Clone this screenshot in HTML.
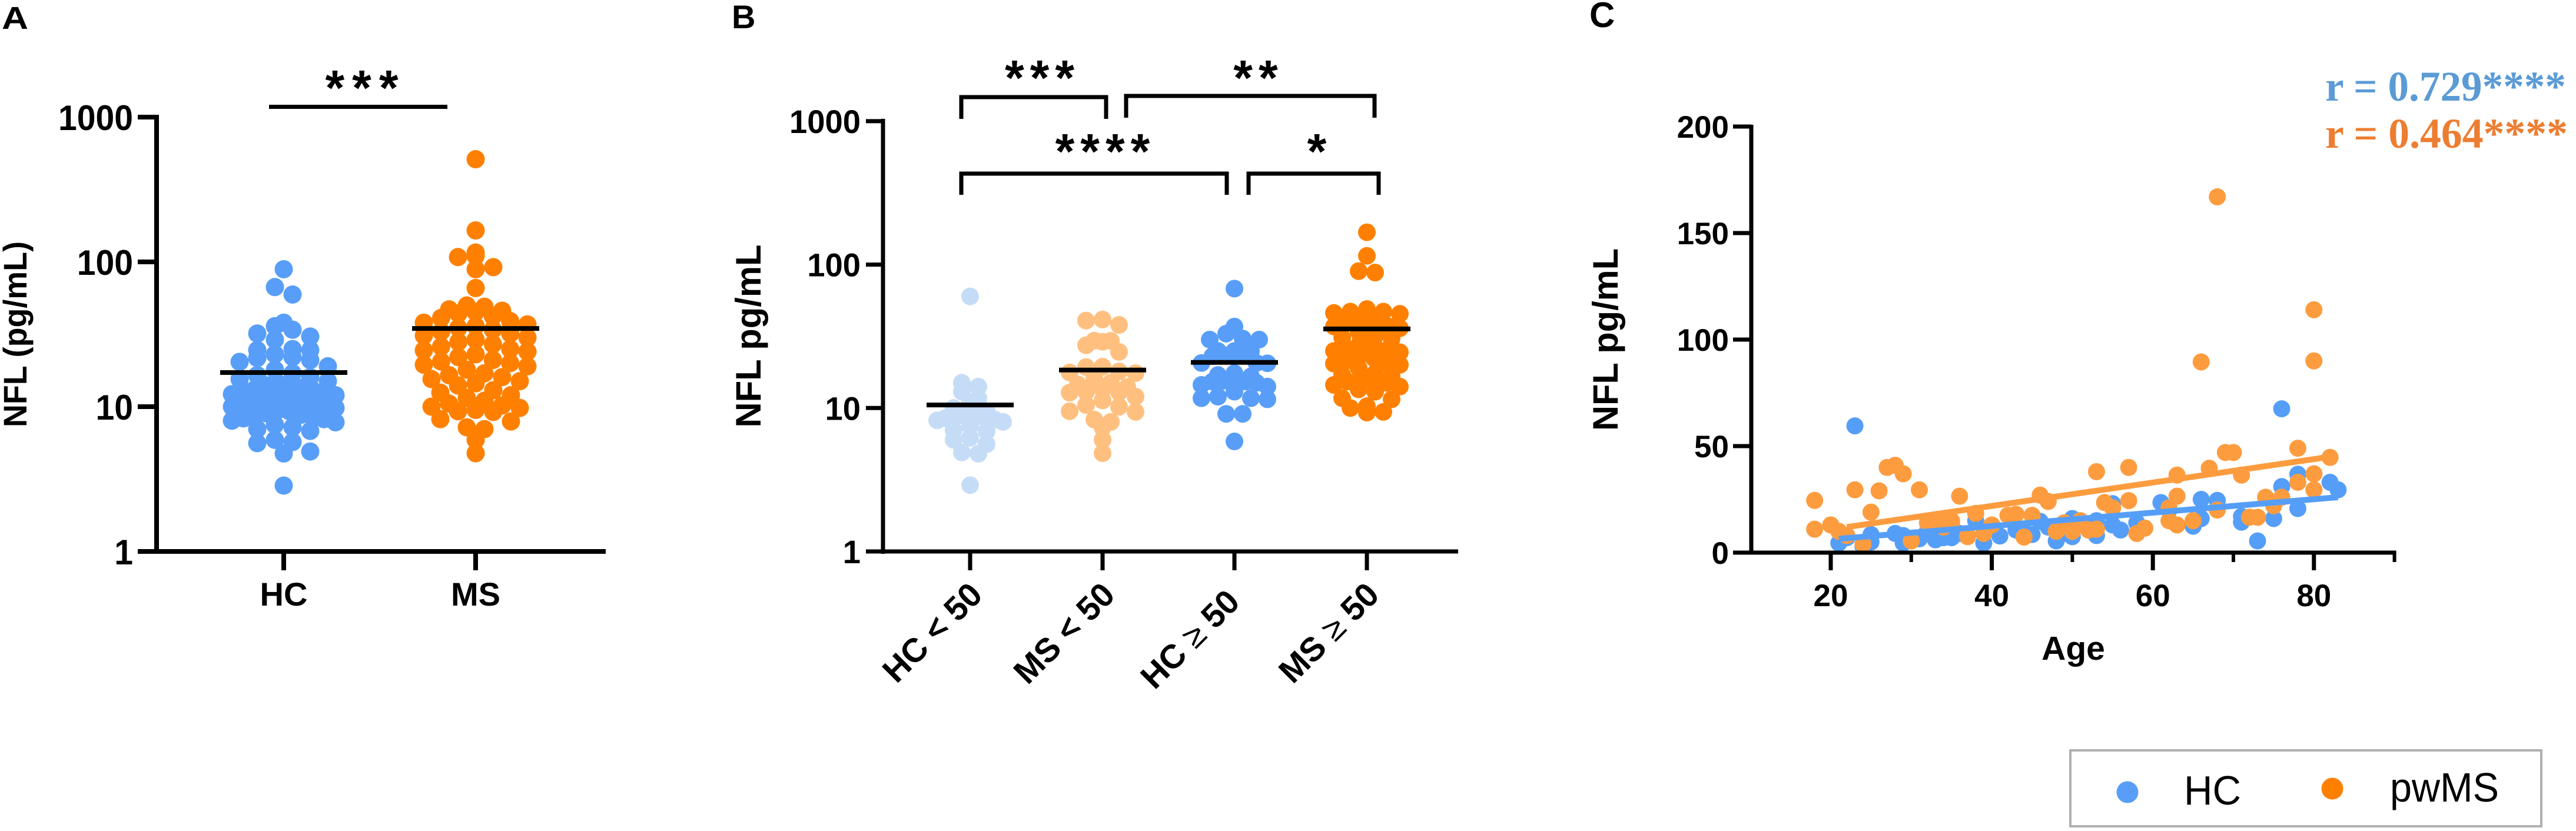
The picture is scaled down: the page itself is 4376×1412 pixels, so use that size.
<!DOCTYPE html>
<html lang="en">
<head>
<meta charset="utf-8">
<title>NFL by group and age</title>
<style>
html,body{margin:0;padding:0;background:#fff;}
svg{display:block;}
text{font-family:"Liberation Sans",Arial,sans-serif;fill:#000;}
.b{font-weight:bold;}
</style>
</head>
<body>
<svg id="fig" xmlns="http://www.w3.org/2000/svg" width="4376" height="1412" viewBox="0 0 4376 1412">
  <rect x="0" y="0" width="4376" height="1412" fill="#fff"/>
  <g id="panelA"></g>
  <g id="panelB"></g>
  <g id="panelC"></g>

  <text class="b" x="3" y="49" font-size="54" textLength="45" lengthAdjust="spacingAndGlyphs">A</text>
  <text class="b" x="1243" y="48" font-size="56">B</text>
  <text class="b" x="2700" y="46" font-size="60">C</text>

  <text class="b" font-size="56" text-anchor="middle" textLength="316" lengthAdjust="spacingAndGlyphs" transform="translate(45,568) rotate(-90)">NFL (pg/mL)</text>
  <text class="b" font-size="60" text-anchor="middle" textLength="311" lengthAdjust="spacingAndGlyphs" transform="translate(1292,571) rotate(-90)">NFL pg/mL</text>
  <text class="b" font-size="60" text-anchor="middle" textLength="310" lengthAdjust="spacingAndGlyphs" transform="translate(2748,577) rotate(-90)">NFL pg/mL</text>
  <text class="b" font-size="57" text-anchor="middle" x="3522" y="1121">Age</text>

  <g>
    <line x1="457" y1="181.5" x2="760" y2="181.5" stroke="#000" stroke-width="7"/>
    <text class="b" font-size="84" text-anchor="middle" letter-spacing="13" x="621" y="178">***</text>
  </g>
  <g fill="none" stroke="#000" stroke-width="7">
    <path d="M1633 202V165H1879V202"/>
    <path d="M1913 200V163H2335V200"/>
    <path d="M1633 331V295H2084V331"/>
    <path d="M2121 331V295H2342V331"/>
  </g>
  <text class="b" font-size="84" text-anchor="middle" letter-spacing="10" x="1771" y="161">***</text>
  <text class="b" font-size="84" text-anchor="middle" letter-spacing="10" x="2138" y="161">**</text>
  <text class="b" font-size="84" text-anchor="middle" letter-spacing="10" x="1878" y="286">****</text>
  <text class="b" font-size="84" text-anchor="middle" x="2237" y="286">*</text>

  <text font-size="72" font-weight="bold" style="font-family:'Liberation Serif',serif;fill:#5B9BD5" x="3950" y="171" textLength="409" lengthAdjust="spacingAndGlyphs">r = 0.729****</text>
  <text font-size="72" font-weight="bold" style="font-family:'Liberation Serif',serif;fill:#ED7D31" x="3950" y="251" textLength="412" lengthAdjust="spacingAndGlyphs">r = 0.464****</text>

  <g>
    <rect x="3517" y="1275" width="800" height="129" fill="#fff" stroke="#b0b0b0" stroke-width="4"/>
    <ellipse cx="3614" cy="1346" rx="18.5" ry="18.5" fill="#589EF8"/>
    <text font-size="70" x="3710" y="1367" textLength="97" lengthAdjust="spacingAndGlyphs">HC</text>
    <ellipse cx="3962" cy="1340" rx="18.5" ry="18.5" fill="#FF8000"/>
    <text font-size="70" x="4060" y="1362" textLength="185" lengthAdjust="spacingAndGlyphs">pwMS</text>
  </g>
</svg>

<script>
// ---------- Panel A data (NFL pg/mL) ----------
const aCategories = ['HC', 'MS'];
const aHC = [89,67,59.5,38,36,34,32,30.5,29,25,24.6,24.6,23,22,21.7,21,20.4,19,18,17,16.5,16,15.5,15,14.5,14.3,14,13.5,13.2,13,12.8,12.5,12.2,12,11.8,11.5,11.2,11,10.8,10.5,10.2,10,9.8,9.5,9.3,9,8.8,8.6,8.5,8.3,8.2,8,7.8,7.5,7.2,7,6.8,5.9,5.7,5.6,4.9,4.75,2.85];
const aMS = [512,165,116,110,108,92,89,66,50,49,47,46,45,44,42,41,39,38,37,36,35,34,33,32,31,30,29,28,27,26,25,24.5,24,23,22,21,20.5,20,19.5,19,18,17,16.5,16,15.5,15,14.5,14,13,12.5,12,11.5,11,10.5,10.2,10,9.8,9.5,9.3,9.2,8.2,7.9,7.2,7,5.9,4.77];
const aMeans = [17.2, 34.7];
const logTicks = [1, 10, 100, 1000];

// ---------- Panel B data (NFL pg/mL) ----------
const bCategories = ['HC < 50', 'MS < 50', 'HC \u2265 50', 'MS \u2265 50'];
const bHCyoung = [60,15,14.1,13,11.7,11,10,9.5,9,8.9,8.8,8.7,8.6,8.5,8.3,8.2,8,7.5,7,6.9,6.2,6,5.6,4.9,4.8,2.9];
const bMSyoung = [41.4,40.7,38,29.5,29.4,29,27.4,24.6,19.4,19.3,18,17.7,17.5,16,15,14.6,14,13.5,13,12.9,12.8,12,11.3,10.5,10.2,9.5,9.4,8.3,8,7.3,6,4.84];
const bHCold = [68,37,33,30.5,30,30,25,25,24.9,24,23.4,23.4,23,20.6,20.6,20.5,17.5,17,16.6,16,15.5,15.3,15.3,15,14.5,14.1,13,12,11.7,11.7,11.5,9.1,9.1,5.85];
const bMSold = [168,115,90,88,49,47,47,46,45.4,42,41.4,40,39,37,37,36,34,32,31,30.5,29,28,26,25.3,25,24.5,23.5,22.4,21.5,20.6,20.4,20,19,17.5,17,16.6,16,15.5,15.3,15,14.5,14.1,13.5,13,11.7,11.5,10.3,10,9.4,9.3];
const bMeans = [10.5, 18.4, 20.8, 35.6];

// ---------- Panel C data (age, NFL pg/mL) ----------
const cHCages = [21,22,23,24,25,25,28,29,29,31,32,33,34,35,36,38,39,40,41,43,44,45,46,47,48,49,50,50,52,53,53,55,55,56,58,61,62,65,66,66,68,71,71,73,75,76,76,78,78,82,83];
const cHCvalues = [4.5,7,59.5,3,8.5,5,9,4.5,8,6.5,10,6,7,7,9,15,4.5,11,7.8,10.6,10,8.5,14.7,12,5.5,9,16,7.5,12,8,15,23,13,10.6,14,23.5,20,12.4,25,16,24.5,14.3,17,5.5,16,31,67.5,20.7,36.8,33,29.5];
const cMSages = [18,18,20,21,22,23,24,25,26,27,28,29,30,31,32,33,33,34,34,35,35,36,37,37,38,39,40,42,43,44,45,46,47,48,49,50,51,52,53,53,54,55,57,57,58,59,62,62,63,63,63,65,66,67,68,68,69,70,71,72,73,74,75,76,78,78,80,80,80,80,82];
const cMSvalues = [24.5,11,13,10,8,29.5,4,19,29,40,41,37,5.5,29.5,14,15,13,12,15,14,15,26.5,8,7.5,18.4,9,13,17.5,18,7.3,17.5,27,24,10,14,10,15,10.6,11,38,23.5,21,40,24.4,9,11.5,15,21,26.5,36.4,13,15,89.5,39.6,167,20,47,47,36.4,16.6,16.6,26,22,26,49,33,37,29.5,90,114,44.7];
const cHCfitAges = [21, 83];
const cHCfitValues = [6.5, 26];
const cMSfitAges = [22, 82];
const cMSfitValues = [12, 45];
const cAgeTicks = [20, 40, 60, 80];
const cAgeMinorTicks = [30, 50, 70, 90];
const cValueTicks = [0, 50, 100, 150, 200];

// ---------- helpers ----------
const NS = 'http://www.w3.org/2000/svg';
function make(tag, parent, attrs) {
  const el = document.createElementNS(NS, tag);
  for (const k in attrs) el.setAttribute(k, attrs[k]);
  parent.appendChild(el);
  return el;
}
// GraphPad-style swarm: values falling in the same vertical bin are spread symmetrically around the category centre.
function swarmOffsets(values, yOf, binPx, spacing, maxHalf) {
  const bins = {};
  values.forEach((v, i) => {
    const key = Math.floor(yOf(v) / binPx);
    (bins[key] = bins[key] || []).push(i);
  });
  const out = new Array(values.length).fill(0);
  Object.keys(bins).forEach(key => {
    const members = bins[key];
    const n = members.length;
    const gap = n > 1 ? Math.min(spacing, 2 * maxHalf / (n - 1)) : 0;
    const slots = [];
    for (let s = 0; s < n; s++) slots.push((s - (n - 1) / 2) * gap);
    slots.sort((p, q) => Math.abs(p) - Math.abs(q));
    members.forEach((idx, m) => { out[idx] = slots[m]; });
  });
  return out;
}
function logAxisFn(y1, yDecade) {
  return v => y1 - Math.log10(v) * yDecade;
}

// ---------- Panel A ----------
const aX = [482, 808];
const aY = logAxisFn(937, 246);
(function () {
  const g = document.getElementById('panelA');
  const groups = [aHC, aMS];
  const colours = ['#589EF8', '#FF8000'];
  groups.forEach((vals, gi) => {
    const offs = swarmOffsets(vals, aY, 24, 30, 88);
    vals.forEach((v, i) => {
      const c = make('circle', g, {cx: aX[gi] + offs[i], cy: aY(v), r: 15.5, fill: colours[gi]});
      
      
    });
  });
  aMeans.forEach((m, i) => {
    const l = make('line', g, {x1: aX[i] - 108, x2: aX[i] + 108, y1: aY(m), y2: aY(m), stroke: '#000', 'stroke-width': 8});
    
    
  });
  const ya = make('line', g, {x1: 266, x2: 266, y1: aY(1000) - 4, y2: 941, stroke: '#000', 'stroke-width': 8});
  
  
  const xa = make('line', g, {x1: 234, x2: 1029, y1: 937, y2: 937, stroke: '#000', 'stroke-width': 8});
  
  
  logTicks.forEach(t => {
    const k = make('line', g, {x1: 234, x2: 266, y1: aY(t), y2: aY(t), stroke: '#000', 'stroke-width': 8});
    
    
    const s = make('text', g, {x: 226, y: aY(t) + 22, 'text-anchor': 'end', 'font-size': 60, class: 'b', textLength: 127 * String(t).length / 4, lengthAdjust: 'spacingAndGlyphs'});
    s.textContent = t;
    
    
  });
  aCategories.forEach((c, i) => {
    const k = make('line', g, {x1: aX[i], x2: aX[i], y1: 937, y2: 969, stroke: '#000', 'stroke-width': 8});
    
    
    const s = make('text', g, {x: aX[i], y: 1029, 'text-anchor': 'middle', 'font-size': 56, class: 'b'});
    s.textContent = c;
    
    
  });
})();

// ---------- Panel B ----------
const bX = [1648, 1873, 2097, 2322];
const bY = logAxisFn(937, 243.7);
(function () {
  const g = document.getElementById('panelB');
  const groups = [bHCyoung, bMSyoung, bHCold, bMSold];
  const colours = ['#C5DCF6', '#FFC07F', '#589EF8', '#FF8000'];
  groups.forEach((vals, gi) => {
    const offs = swarmOffsets(vals, bY, 20, 28, 56);
    vals.forEach((v, i) => {
      const c = make('circle', g, {cx: bX[gi] + offs[i], cy: bY(v), r: 15, fill: colours[gi]});
      
      
    });
  });
  bMeans.forEach((m, i) => {
    const l = make('line', g, {x1: bX[i] - 74, x2: bX[i] + 74, y1: bY(m), y2: bY(m), stroke: '#000', 'stroke-width': 8});
    
    
  });
  const ya = make('line', g, {x1: 1500, x2: 1500, y1: bY(1000) - 4, y2: 941, stroke: '#000', 'stroke-width': 7});
  
  
  const xa = make('line', g, {x1: 1471, x2: 2477, y1: 937, y2: 937, stroke: '#000', 'stroke-width': 7});
  
  
  logTicks.forEach(t => {
    const k = make('line', g, {x1: 1471, x2: 1500, y1: bY(t), y2: bY(t), stroke: '#000', 'stroke-width': 7});
    
    
    const s = make('text', g, {x: 1462, y: bY(t) + 20, 'text-anchor': 'end', 'font-size': 56, class: 'b', textLength: 121 * String(t).length / 4, lengthAdjust: 'spacingAndGlyphs'});
    s.textContent = t;
    
    
  });
  bCategories.forEach((c, i) => {
    const k = make('line', g, {x1: bX[i], x2: bX[i], y1: 937, y2: 969, stroke: '#000', 'stroke-width': 7});
    
    
    const lift = c.indexOf('HC \u2265') === 0 ? 12 : 0;
    const nudge = c.indexOf('HC \u2265') === 0 ? 12 : 24;
    const s = make('text', g, {'text-anchor': 'end', 'font-size': 57, class: 'b', transform: 'translate(' + (bX[i] + nudge) + ',' + (1014 + lift) + ') rotate(-45)'});
    const sym = c.indexOf('\u2265');
    if (sym >= 0) {
      s.appendChild(document.createTextNode(c.slice(0, sym)));
      const t = make('tspan', s, {'font-weight': 'normal'});
      t.textContent = '\u2265';
      s.appendChild(document.createTextNode(c.slice(sym + 1)));
    } else {
      s.textContent = c;
    }
    
    
  });
})();

// ---------- Panel C ----------
const cXscale = a => 3110 + (a - 20) * 13.68;
const cYscale = v => 939 - v * 3.62;
(function () {
  const g = document.getElementById('panelC');
  cHCages.forEach((a, i) => {
    const c = make('circle', g, {cx: cXscale(a), cy: cYscale(cHCvalues[i]), r: 14.5, fill: '#559EF8'});
    
    
  });
  cMSages.forEach((a, i) => {
    const c = make('circle', g, {cx: cXscale(a), cy: cYscale(cMSvalues[i]), r: 14.5, fill: '#FD9C3F'});
    
    
  });
  const lm = make('line', g, {x1: cXscale(cMSfitAges[0]), x2: cXscale(cMSfitAges[1]), y1: cYscale(cMSfitValues[0]), y2: cYscale(cMSfitValues[1]), stroke: '#FD9C3F', 'stroke-width': 10});
  
  
  const lh = make('line', g, {x1: cXscale(cHCfitAges[0]), x2: cXscale(cHCfitAges[1]), y1: cYscale(cHCfitValues[0]), y2: cYscale(cHCfitValues[1]), stroke: '#559EF8', 'stroke-width': 10});
  
  
  const ya = make('line', g, {x1: 2975, x2: 2975, y1: cYscale(200) - 3, y2: 942, stroke: '#000', 'stroke-width': 7});
  
  
  const xa = make('line', g, {x1: 2944, x2: cXscale(90) + 3, y1: 939, y2: 939, stroke: '#000', 'stroke-width': 7});
  
  
  cValueTicks.forEach(t => {
    const k = make('line', g, {x1: 2944, x2: 2975, y1: cYscale(t), y2: cYscale(t), stroke: '#000', 'stroke-width': 7});
    
    
    const s = make('text', g, {x: 2937, y: cYscale(t) + 19, 'text-anchor': 'end', 'font-size': 53, class: 'b'});
    s.textContent = t;
    
    
  });
  cAgeTicks.forEach(t => {
    const k = make('line', g, {x1: cXscale(t), x2: cXscale(t), y1: 939, y2: 969, stroke: '#000', 'stroke-width': 7});
    
    
    const s = make('text', g, {x: cXscale(t), y: 1030, 'text-anchor': 'middle', 'font-size': 53, class: 'b'});
    s.textContent = t;
    
    
  });
  cAgeMinorTicks.forEach(t => {
    const k = make('line', g, {x1: cXscale(t), x2: cXscale(t), y1: 939, y2: 955, stroke: '#000', 'stroke-width': 6});
    
    
  });
})();
</script>
</body>
</html>
